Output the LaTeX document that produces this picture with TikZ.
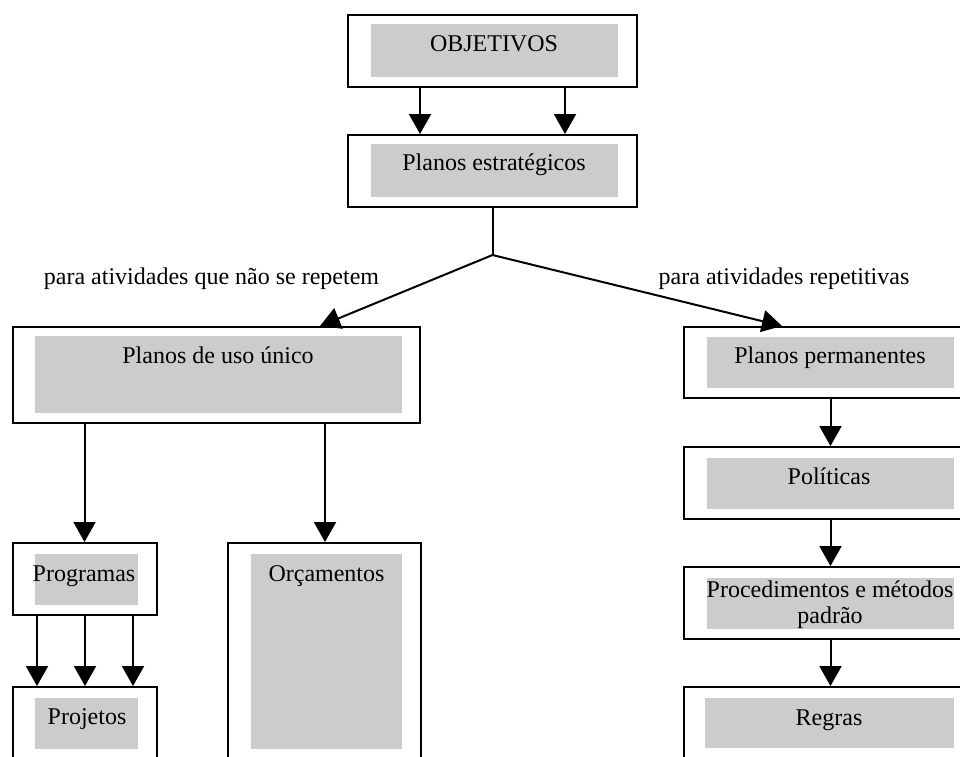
\documentclass[tikz,border=0pt]{standalone}
\usepackage{fontspec}
\setmainfont{Liberation Serif}
\usetikzlibrary{arrows.meta}
\definecolor{panelgray}{RGB}{204,204,204}
\tikzset{
  frame/.style={draw, line width=2pt, inner sep=0pt},
  panel/.style={fill=panelgray, inner sep=0pt},
  caption/.style={anchor=base, inner sep=0pt, align=center, font=\fontsize{24}{26}\selectfont},
  link/.style={line width=2pt, -{Triangle[width=22pt,length=20pt]}},
  plain/.style={line width=2pt},
}
\begin{document}
\begin{tikzpicture}[x=1pt,y=-1pt]
\useasboundingbox (0,0) rectangle (960,756);
\clip (0,0) rectangle (960,756);

% outer frames
\node[frame, minimum width=289pt, minimum height=72pt] (obj)  at (492.5,51)  {};
\node[frame, minimum width=289pt, minimum height=72pt] (pe)   at (492.5,171) {};
\node[frame, minimum width=407pt, minimum height=96pt] (pu)   at (216.5,375) {};
\node[frame, minimum width=293pt, minimum height=71pt] (pp)   at (830.5,362.5) {};
\node[frame, minimum width=144pt, minimum height=72pt] (prog) at (85,579)    {};
\node[frame, minimum width=144pt, minimum height=72pt] (proj) at (85,723)    {};
\node[frame, minimum width=193pt, minimum height=216pt] (orc) at (324.5,651) {};
\node[frame, minimum width=293pt, minimum height=72pt] (pol)  at (830.5,483) {};
\node[frame, minimum width=293pt, minimum height=72pt] (proc) at (830.5,603) {};
\node[frame, minimum width=293pt, minimum height=72pt] (reg)  at (830.5,723) {};

% grey panels
\node[panel, minimum width=247pt, minimum height=53pt] (obj-p)  at (494.5,50.5)  {};
\node[panel, minimum width=247pt, minimum height=53pt] (pe-p)   at (494.5,170.5) {};
\node[panel, minimum width=367pt, minimum height=77pt] (pu-p)   at (218.5,374.5) {};
\node[panel, minimum width=247pt, minimum height=51pt] (pp-p)   at (830.5,362.5) {};
\node[panel, minimum width=103pt, minimum height=51pt] (prog-p) at (86.5,579.5)  {};
\node[panel, minimum width=103pt, minimum height=51pt] (proj-p) at (86.5,723.5)  {};
\node[panel, minimum width=151pt, minimum height=195pt] (orc-p) at (326.5,651.5) {};
\node[panel, minimum width=247pt, minimum height=51pt] (pol-p)  at (830.5,483.5) {};
\node[panel, minimum width=247pt, minimum height=51pt] (proc-p) at (830.5,603.5) {};
\node[panel, minimum width=249pt, minimum height=50pt] (reg-p)  at (829.5,723)   {};

% texts
\node[caption] (obj-t)  at (494,51)   {OBJETIVOS};
\node[caption] (pe-t)   at (494,170)  {Planos estratégicos};
\node[caption] (pu-t)   at (218,363)  {Planos de uso único};
\node[caption] (pp-t)   at (830,363)  {Planos permanentes};
\node[caption] (prog-t) at (84,581)   {Programas};
\node[caption] (proj-t) at (87,724)   {Projetos};
\node[caption] (orc-t)  at (326.5,581) {Orçamentos};
\node[caption] (pol-t)  at (829,484)  {Políticas};
% two-line caption: base anchor sits on the last line
\node[caption] (proc-t) at (830,623)  {Procedimentos e métodos\\padrão};
\node[caption] (reg-t)  at (829,725)  {Regras};
\node[caption] (lab-l)  at (211.5,284) {para atividades que não se repetem};
\node[caption] (lab-r)  at (784,284)  {para atividades repetitivas};

% connectors
\draw[link] ([xshift=-72.5pt]obj.south) -- ([xshift=-72.5pt]pe.north);
\draw[link] ([xshift=72.5pt]obj.south) -- ([xshift=72.5pt]pe.north);

\coordinate (j) at (492.5,255);
\draw[plain] (pe.south) -- (j);
\draw[link] (j) -- ([xshift=103.5pt]pu.north);
\draw[link] (j) -- ([xshift=-48.5pt]pp.north);

\draw[link] ([xshift=-132pt]pu.south) -- ([xshift=-132pt]pu.south |- prog.north);
\draw[link] ([xshift=108.5pt]pu.south) -- ([xshift=108.5pt]pu.south |- orc.north);

\draw[link] ([xshift=-48pt]prog.south) -- ([xshift=-48pt]proj.north);
\draw[link] (prog.south) -- (proj.north);
\draw[link] ([xshift=48pt]prog.south) -- ([xshift=48pt]proj.north);

\draw[link] (pp.south) -- (pol.north);
\draw[link] (pol.south) -- (proc.north);
\draw[link] (proc.south) -- (reg.north);
\end{tikzpicture}
\end{document}
